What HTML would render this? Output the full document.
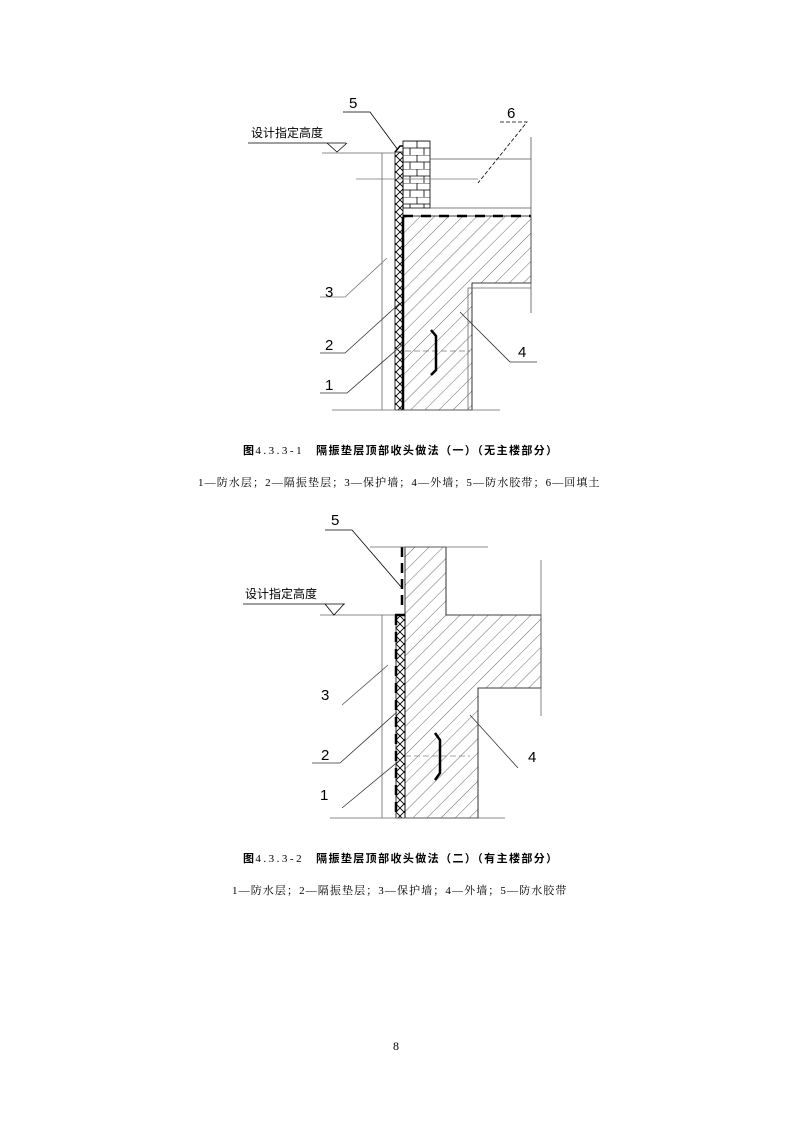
<!DOCTYPE html>
<html><head><meta charset="utf-8"><style>
body{margin:0;background:#fff;width:793px;height:1123px;position:relative;overflow:hidden}
.t{position:absolute;white-space:nowrap;font-family:"Liberation Serif","Noto Serif CJK SC",serif;color:#000}
.cap{font-size:11px;font-weight:bold;font-family:"Liberation Sans","Noto Sans CJK SC",sans-serif;letter-spacing:1.4px}
.cap span{font-weight:normal;font-family:"Liberation Serif",serif;letter-spacing:2.5px;margin-right:12px}
.leg{font-size:11px;letter-spacing:1.1px}
svg{position:absolute;left:0;top:0}
</style></head><body>
<svg width="793" height="1123" viewBox="0 0 793 1123" font-family="Liberation Sans, Noto Sans CJK SC, sans-serif">
<defs>
<pattern id="h" width="10" height="10" patternUnits="userSpaceOnUse" patternTransform="rotate(45)">
<line x1="0" y1="0" x2="0" y2="10" stroke="#444" stroke-width="0.8"/></pattern>
<pattern id="x" width="8" height="8" patternUnits="userSpaceOnUse">
<path d="M0 0L8 8M8 0L0 8" stroke="#000" stroke-width="0.9"/></pattern>
<pattern id="b" width="28" height="14" patternUnits="userSpaceOnUse" x="403" y="141">
<path d="M0 0H28M0 7H28M14 0V7M0 7V14M21 7V14M7 7V14" stroke="#000" stroke-width="0.8" fill="none"/></pattern>
</defs>
<g stroke="#000" fill="none" stroke-width="0.8">
<path d="M403 216H531V283H472V410H403Z" fill="url(#h)"/>
<path d="M468 410V288H531M472 283" stroke="#666"/>
<rect x="403" y="141" width="27" height="67" fill="url(#b)"/>
<rect x="395" y="152" width="8" height="258" fill="url(#x)"/>
<path d="M395 152L400 146L403 146" stroke-width="1.5"/>
<path d="M403 217V410" stroke-width="2.5"/>
<path d="M403 216H531" stroke-width="2.5" stroke-dasharray="10,8"/>
<path d="M430 208H531M430 159H531M531 137V313" stroke="#555"/>
<path d="M356 179H478" stroke="#777"/>
<path d="M322 153H395M382 153V410M332 410H500" stroke="#666"/>
<path d="M248 143H346M327 143L337 152L347 143"/>
<path d="M343 112H370L398 150"/>
<path d="M500 122H527L478 183" stroke-dasharray="4,2"/>
<path d="M320 297H345L387 258" stroke="#777"/>
<path d="M320 353H345L400 303" stroke="#333"/>
<path d="M320 393H347L402 345" stroke="#333"/>
<path d="M537 362H510L460 312" stroke="#333"/>
<path d="M405 351H470" stroke="#777" stroke-dasharray="6,3"/>
<path d="M431 330L436 336V370L431 375" stroke-width="2.5"/>
<path d="M405 547H446V615H541V688H478V818H405Z" fill="url(#h)"/>
<path d="M402 547V610" stroke-width="2.5" stroke-dasharray="10,6"/>
<rect x="396" y="615" width="9" height="203" fill="url(#x)"/>
<path d="M396 615V818" stroke-width="2.5" stroke-dasharray="10,7"/>
<path d="M395 615H405" stroke-width="2.5"/>
<path d="M370 547H488M541 560V716" stroke="#666"/>
<path d="M320 615H395M382 615V818M330 818H505" stroke="#666"/>
<path d="M243 604H345M325 604L334 615L344 604"/>
<path d="M325 530H352L402 588"/>
<path d="M342 705L388 665" stroke="#555"/>
<path d="M312 763H340L397 712" stroke="#333"/>
<path d="M342 808L400 760" stroke="#333"/>
<path d="M518 768L470 715" stroke="#333"/>
<path d="M405 756H470" stroke="#888" stroke-dasharray="6,3"/>
<path d="M435 733L440 740V773L435 780" stroke-width="2.5"/>
</g>
<g font-size="15" fill="#000" font-weight="normal">
<text x="349" y="108">5</text><text x="507" y="118">6</text>
<text x="325" y="297">3</text><text x="325" y="350">2</text><text x="325" y="390">1</text><text x="518" y="357">4</text>
<text x="331" y="525">5</text>
<text x="321" y="700">3</text><text x="321" y="760">2</text><text x="320" y="800">1</text><text x="528" y="762">4</text>
</g>
<g font-size="12" fill="#000"><text x="251" y="137">设计指定高度</text><text x="245" y="598">设计指定高度</text></g>
</svg>
<div class="t cap" style="left:243px;top:442px">图<span>4.3.3-1</span>隔振垫层顶部收头做法（一）（无主楼部分）</div>
<div class="t leg" style="left:198px;top:474px">1—防水层；2—隔振垫层；3—保护墙；4—外墙；5—防水胶带；6—回填土</div>
<div class="t cap" style="left:243px;top:850px">图<span>4.3.3-2</span>隔振垫层顶部收头做法（二）（有主楼部分）</div>
<div class="t leg" style="left:232px;top:882px">1—防水层；2—隔振垫层；3—保护墙；4—外墙；5—防水胶带</div>
<div class="t" style="left:393px;top:1039px;font-size:12px">8</div>
</body></html>
